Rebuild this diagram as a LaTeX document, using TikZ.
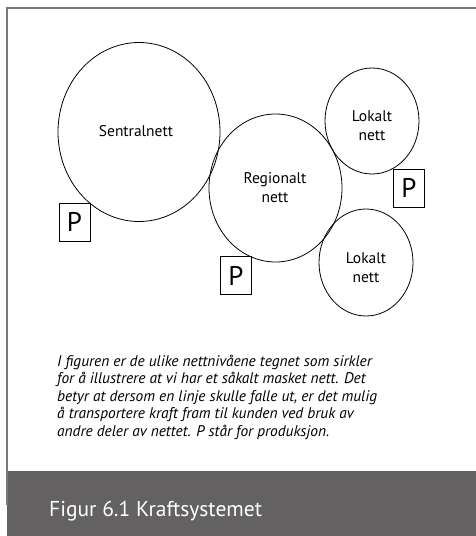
\documentclass[tikz,border=0pt]{standalone}
\usepackage{fontspec}
\setmainfont{PT Sans}
\usetikzlibrary{shapes.geometric}
\definecolor{framegray}{RGB}{120,120,120}
\definecolor{bandgray}{RGB}{99,97,98}
\tikzset{
  net/.style={draw=black, line width=0.8pt, ellipse, inner sep=0pt},
  lbl/.style={font=\fontsize{15.5}{19}\selectfont, align=center, inner sep=0pt},
  pbox/.style={draw=black, line width=0.7pt, minimum width=31pt, minimum height=38pt, inner sep=0pt, font=\fontsize{27}{27}\selectfont}
}
\begin{document}
\begin{tikzpicture}[x=1pt,y=-1pt]
\useasboundingbox (0,0) rectangle (476,536);
% frame
\fill[bandgray] (7.3,471) rectangle (476,536);
\draw[framegray, line width=1.2pt] (476,8) -- (7,8) -- (7,505);
% networks
\node[net, minimum width=162pt, minimum height=179pt] (sentral) at (139,132) {};
\node[net, minimum width=133pt, minimum height=148pt] (regional) at (275.5,188) {};
\node[net, minimum width=94pt, minimum height=106pt] (lokal1) at (372,121) {};
\node[net, minimum width=94pt, minimum height=107pt] (lokal2) at (366,262.5) {};
% labels (base anchor = baseline of last line)
\node[lbl, anchor=base] (tsentral) at (136,136) {Sentralnett};
\node[lbl, anchor=base] (tregional) at (275,202.3) {Regionalt\\nett};
\node[lbl, anchor=base] (tlokal1) at (372,140) {Lokalt\\nett};
\node[lbl, anchor=base] (tlokal2) at (366,282.7) {Lokalt\\nett};
% production
\node[pbox] (p1) at (74.5,222) {P};
\node[pbox] (p2) at (236,275.5) {P};
\node[pbox] (p3) at (409,188) {P};
% caption text
\node[anchor=base west, align=left, inner sep=0pt, font=\fontsize{15.4}{17.5}\selectfont\itshape] (caption) at (57,436)
 {I figuren er de ulike nettnivåene tegnet som sirkler\\
  for å illustrere at vi har et såkalt masket nett. Det\\
  betyr at dersom en linje skulle falle ut, er det mulig\\
  å transportere kraft fram til kunden ved bruk av\\
  andre deler av nettet. P står for produksjon.};
\node[anchor=base west, inner sep=0pt, text=white, font=\fontsize{21.5}{21.5}\selectfont] (title) at (49,516.5) {Figur 6.1 Kraftsystemet};
\end{tikzpicture}
\end{document}
